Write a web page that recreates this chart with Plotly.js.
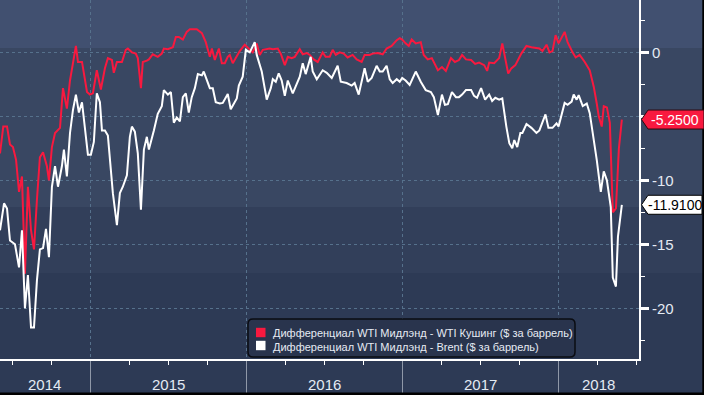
<!DOCTYPE html>
<html><head><meta charset="utf-8">
<script src="https://cdn.plot.ly/plotly-3.0.1.min.js"></script>
<style>html,body{margin:0;padding:0;background:#2d3a55;overflow:hidden}#chart{width:704px;height:395px}</style>
</head><body><div id="chart"></div>
<script>
const seriesNames = ['Дифференциал WTI Мидлэнд - WTI Кушинг ($ за баррель)', 'Дифференциал WTI Мидлэнд - Brent ($ за баррель)'];
const seriesColors = ['#f8193f', '#ffffff'];

const cushingX = [2014.417,2014.438,2014.462,2014.481,2014.500,2014.520,2014.539,2014.558,2014.577,2014.596,2014.616,2014.635,2014.654,2014.673,2014.693,2014.718,2014.731,2014.750,2014.770,2014.802,2014.821,2014.846,2014.866,2014.904,2014.917,2014.943,2014.975,2014.994,2015.013,2015.038,2015.064,2015.090,2015.109,2015.135,2015.147,2015.167,2015.199,2015.224,2015.237,2015.263,2015.288,2015.301,2015.321,2015.333,2015.359,2015.372,2015.397,2015.429,2015.455,2015.468,2015.494,2015.526,2015.545,2015.564,2015.590,2015.615,2015.635,2015.679,2015.712,2015.737,2015.763,2015.776,2015.795,2015.821,2015.840,2015.859,2015.878,2015.891,2015.910,2015.955,2015.987,2016.019,2016.038,2016.064,2016.083,2016.103,2016.147,2016.167,2016.199,2016.218,2016.231,2016.244,2016.263,2016.288,2016.308,2016.340,2016.359,2016.385,2016.404,2016.429,2016.455,2016.487,2016.506,2016.532,2016.551,2016.571,2016.596,2016.622,2016.647,2016.679,2016.705,2016.737,2016.756,2016.788,2016.808,2016.840,2016.872,2016.897,2016.929,2016.962,2016.981,2016.997,2017.019,2017.039,2017.058,2017.084,2017.116,2017.135,2017.161,2017.187,2017.226,2017.252,2017.277,2017.310,2017.335,2017.361,2017.381,2017.406,2017.439,2017.465,2017.490,2017.523,2017.542,2017.555,2017.587,2017.619,2017.639,2017.658,2017.677,2017.697,2017.723,2017.761,2017.794,2017.826,2017.877,2017.897,2017.923,2017.942,2017.961,2017.981,2018.000,2018.039,2018.058,2018.090,2018.110,2018.135,2018.168,2018.200,2018.226,2018.245,2018.258,2018.277,2018.290,2018.310,2018.329,2018.348,2018.368,2018.387,2018.406];
const cushingY = [-7.9,-5.8,-5.8,-7.2,-7.4,-8.4,-10.9,-9.7,-17.3,-10.5,-13.9,-15.4,-11.5,-8.2,-7.8,-8.9,-10,-7.4,-6.3,-5.9,-2.8,-4.4,-2.2,0.5,-0.75,-0.75,-3.1,-3.3,-3.2,-1.4,-2.9,-1.25,-0.45,-0.6,-1.6,-0.75,-0.75,0.2,0.3,0,-0.1,-0.45,-2.8,-0.75,-0.65,-0.55,-0.15,-0.35,-0.1,0.3,0.25,0.4,1.2,1.2,1.0,1.6,1.8,1.8,1.5,0.8,-0.35,0.3,-0.6,0.3,-0.85,-0.85,-0.35,-0.2,-0.85,0.1,0.6,0.2,0,0.7,-0.2,0.2,0.3,0.25,0.3,-0.1,-0.6,-1.0,-0.35,-0.45,-0.35,0.25,-0.15,-0.05,-0.2,-0.55,-0.75,0,-0.35,-0.35,0.2,-0.2,0,-0.1,-0.4,-0.2,-0.55,-0.75,-0.2,-0.2,-0.1,-0.05,-0.15,0.3,0.5,0.95,1.1,1.0,0.7,0.5,1.0,0.7,0.8,-0.2,-0.55,-0.45,-1.4,-1.15,-1.45,-0.45,-0.75,-0.6,-0.2,-0.55,-0.6,-0.9,-0.8,-1.0,-1.45,-0.8,-0.85,-0.45,0.7,-0.35,-1.65,-1.25,-1.0,-0.1,0.5,0.4,0.3,0.1,0.6,0,0.1,1.35,0.7,1.6,0.8,0,-0.4,-0.2,-0.75,-1.4,-2.7,-4.0,-5.0,-5.8,-4.2,-4.3,-5.5,-12.5,-12.2,-7.5,-5.25];

const brentX = [2014.417,2014.443,2014.462,2014.481,2014.513,2014.539,2014.558,2014.577,2014.596,2014.616,2014.635,2014.654,2014.673,2014.693,2014.712,2014.731,2014.750,2014.770,2014.789,2014.814,2014.827,2014.846,2014.866,2014.885,2014.904,2014.923,2014.943,2014.962,2014.981,2015.000,2015.019,2015.038,2015.058,2015.071,2015.090,2015.109,2015.141,2015.167,2015.186,2015.205,2015.231,2015.250,2015.263,2015.282,2015.301,2015.321,2015.340,2015.359,2015.372,2015.404,2015.429,2015.455,2015.468,2015.494,2015.513,2015.532,2015.551,2015.571,2015.590,2015.609,2015.628,2015.647,2015.667,2015.686,2015.712,2015.724,2015.763,2015.782,2015.801,2015.827,2015.846,2015.878,2015.897,2015.936,2015.949,2015.974,2015.994,2016.019,2016.051,2016.064,2016.096,2016.128,2016.154,2016.167,2016.186,2016.205,2016.224,2016.244,2016.263,2016.295,2016.340,2016.359,2016.378,2016.410,2016.423,2016.449,2016.487,2016.513,2016.545,2016.583,2016.603,2016.641,2016.673,2016.692,2016.718,2016.756,2016.776,2016.801,2016.833,2016.853,2016.872,2016.897,2016.917,2016.936,2016.962,2016.981,2016.997,2017.019,2017.045,2017.084,2017.116,2017.148,2017.181,2017.200,2017.226,2017.252,2017.271,2017.290,2017.316,2017.342,2017.361,2017.381,2017.406,2017.439,2017.458,2017.477,2017.503,2017.529,2017.555,2017.574,2017.594,2017.619,2017.639,2017.665,2017.684,2017.703,2017.716,2017.735,2017.755,2017.768,2017.794,2017.826,2017.858,2017.877,2017.897,2017.916,2017.935,2017.961,2017.987,2018.000,2018.039,2018.058,2018.084,2018.097,2018.116,2018.129,2018.155,2018.181,2018.200,2018.219,2018.245,2018.271,2018.290,2018.310,2018.335,2018.348,2018.368,2018.381,2018.406];
const brentY = [-13.9,-11.8,-12.2,-14.7,-15.0,-16.8,-13.9,-20.0,-17.4,-21.5,-21.5,-17.8,-15.4,-15.3,-13.8,-16.0,-10.5,-8.9,-10.5,-8.9,-7.6,-9.7,-6.3,-4.5,-3.3,-4.7,-3.9,-5.8,-8.0,-8.0,-7.0,-3.2,-3.9,-6.1,-6.1,-6.5,-11.0,-13.5,-11.0,-10.5,-9.6,-6.6,-5.8,-6.2,-7.9,-12.3,-7.6,-6.6,-7.6,-6.1,-4.8,-4.2,-2.95,-3.3,-3.1,-5.5,-5.1,-5.4,-3.5,-3.2,-4.7,-3.5,-2.8,-1.7,-1.8,-1.5,-2.8,-2.8,-3.9,-4.0,-3.95,-3.25,-4.45,-3.6,-2.6,-1.9,0.2,0,0.8,-0.2,-1.5,-3.7,-2.8,-2.1,-2.3,-1.65,-2.2,-3.4,-2.2,-3.2,-1.9,-0.85,-1.7,-0.35,-1.5,-2.1,-1.4,-1.6,-2.0,-1.05,-2.3,-2.4,-2.6,-2.4,-3.3,-1.25,-2.3,-2.0,-1.05,-1.5,-1.5,-1.05,-2.1,-2.4,-2.1,-2.3,-2.0,-2.2,-2.55,-1.5,-2.3,-2.95,-3.1,-3.5,-4.9,-3.3,-4.1,-4.05,-3.1,-3.5,-3.5,-3.3,-2.95,-2.95,-3.4,-3.55,-2.8,-3.7,-3.3,-3.8,-3.55,-3.7,-3.6,-5.8,-7.1,-7.5,-6.85,-7.4,-6.3,-6.3,-5.6,-5.9,-6.3,-6.1,-5.4,-4.85,-5.9,-5.9,-5.55,-5.8,-3.95,-4.1,-3.85,-3.3,-3.7,-3.35,-4.2,-4.0,-4.75,-6.2,-8.4,-10.9,-9.3,-10.0,-12.1,-17.6,-18.3,-14.4,-11.91];

const yearLabelPos = [2014.705, 2015.5, 2016.5, 2017.5, 2018.258];
const yearLabelText = ['2014', '2015', '2016', '2017', '2018'];
const yearBoundaries = [2015, 2016, 2017, 2018];
const yTickVals = [0, -5, -10, -15, -20];
const yTickText = ['0', '', '-10', '-15', '-20'];  // "-5" sits under the last-value flag in the reference

const NUMFONT = 'Liberation Sans Narrow, Liberation Sans, Arial, sans-serif';
const PW = 639, PH = 359;
const px2x = p => p / PW, py2y = p => 1 - p / PH;
const fullW = 704 / PW;

const traces = [
  {x: cushingX, y: cushingY, type: 'scatter', mode: 'lines', name: seriesNames[0],
   line: {color: seriesColors[0], width: 2}, hoverinfo: 'skip'},
  {x: brentX, y: brentY, type: 'scatter', mode: 'lines', name: seriesNames[1],
   line: {color: seriesColors[1], width: 2}, hoverinfo: 'skip'}
];

const bands = [[0, 48, '#415070'], [48, 207, '#394762'], [207, 273, '#323f5a'], [273, 395, '#2d3a55']];
const shapes = bands.map(b => ({type: 'rect', xref: 'paper', yref: 'paper', x0: 0, x1: fullW,
  y0: py2y(b[0]), y1: py2y(b[1]), fillcolor: b[2], line: {width: 0}, layer: 'below'}));
shapes.push({type: 'rect', xref: 'paper', yref: 'paper', x0: 0, x1: fullW, y0: py2y(392.5), y1: py2y(395), fillcolor: '#000', line: {width: 0}, layer: 'above'});
shapes.push({type: 'rect', xref: 'paper', yref: 'paper', x0: px2x(702.3), x1: fullW, y0: py2y(395), y1: 1, fillcolor: '#000', line: {width: 0}, layer: 'above'});

// legend box
const lx0 = px2x(248), lx1 = px2x(575), ly0 = py2y(319), ly1 = py2y(357), rx = 5 / PW, ry = 5 / PH;
shapes.push({type: 'path', xref: 'paper', yref: 'paper', layer: 'above', fillcolor: '#29344d', line: {color: '#0a0c12', width: 1.5},
  path: `M ${lx0+rx},${ly0} L ${lx1-rx},${ly0} Q ${lx1},${ly0} ${lx1},${ly0-ry} L ${lx1},${ly1+ry} Q ${lx1},${ly1} ${lx1-rx},${ly1} L ${lx0+rx},${ly1} Q ${lx0},${ly1} ${lx0},${ly1+ry} L ${lx0},${ly0-ry} Q ${lx0},${ly0} ${lx0+rx},${ly0} Z`});
const legRows = [332.5, 345.5];
legRows.forEach((r, i) => {
  shapes.push({type: 'rect', xref: 'paper', yref: 'paper', layer: 'above', x0: px2x(256), x1: px2x(265.5), y0: py2y(r - 4.7), y1: py2y(r + 4.7), fillcolor: seriesColors[i], line: {width: 0}});
});

const annotations = [{xref: 'paper', yref: 'paper', x: px2x(271), y: py2y(339.5), xanchor: 'left', yanchor: 'middle', align: 'left',
  text: seriesNames.join('<br>'), showarrow: false, font: {family: 'Liberation Sans, Arial, sans-serif', size: 11, color: '#e6ebf3'}}];

// year labels under the axis
yearLabelText.forEach((t, i) => annotations.push({xref: 'x', yref: 'paper', x: yearLabelPos[i], y: py2y(384.5), xanchor: 'center', yanchor: 'middle',
  showarrow: false, text: t, font: {family: NUMFONT, size: 15, color: '#e4eaf3'}}));

// last-value flags
const lastVals = [cushingY[cushingY.length - 1], brentY[brentY.length - 1]];
const flagStyle = [{fill: seriesColors[0], line: '#2a0a10', text: '#ffffff'}, {fill: '#ffffff', line: '#000000', text: '#000000'}];
const hh = 9.5 / 12.8;
lastVals.forEach((v, i) => {
  const xt = px2x(641.5), xb = px2x(648), xe = px2x(i === 0 ? 704 : 702);
  shapes.push({type: 'path', xref: 'paper', yref: 'y', layer: 'above', fillcolor: flagStyle[i].fill, line: {color: flagStyle[i].line, width: 1},
    path: `M ${xt},${v} L ${xb},${v + hh} L ${xe},${v + hh} L ${xe},${v - hh} L ${xb},${v - hh} Z`});
  annotations.push({xref: 'paper', yref: 'y', x: px2x(675), y: v, xanchor: 'center', yanchor: 'middle', showarrow: false,
    text: v.toFixed(4), font: {family: NUMFONT, size: 14, color: flagStyle[i].text}});
});

const xr = [2014.417, 2018.516];
const layout = {
  width: 704, height: 395, margin: {l: 0, r: 65, t: 0, b: 36, pad: 0},
  paper_bgcolor: '#2d3a55', plot_bgcolor: 'rgba(0,0,0,0)', showlegend: false,
  xaxis: {type: 'linear', range: xr, tickmode: 'array', tickvals: yearBoundaries, ticktext: yearBoundaries.map(() => ''),
    ticks: 'outside', ticklen: 34, tickwidth: 1, tickcolor: '#8f98a8',
    showgrid: true, gridcolor: '#56718c', griddash: '3px,3px', gridwidth: 1, zeroline: false,
    showline: true, linecolor: '#ffffff', linewidth: 1.5,
    minor: {tickmode: 'linear', tick0: 2014, dtick: 0.25, ticks: 'outside', ticklen: 4, tickwidth: 1, tickcolor: '#ffffff', showgrid: false}},
  yaxis: {side: 'right', range: [-23.96, 4.09], tickmode: 'array', tickvals: yTickVals, ticktext: yTickText,
    ticks: 'outside', ticklen: 8, tickwidth: 2.5, tickcolor: '#ffffff',
    showgrid: true, gridcolor: '#56718c', griddash: '3px,3px', gridwidth: 1, zeroline: false,
    showline: true, linecolor: '#ffffff', linewidth: 2,
    tickfont: {family: NUMFONT, size: 15, color: '#e4eaf3'},
    minor: {tickmode: 'linear', tick0: 0, dtick: 2.5, ticks: 'outside', ticklen: 4, tickwidth: 1, tickcolor: '#ffffff', showgrid: false}},
  shapes: shapes, annotations: annotations
};
Plotly.newPlot('chart', traces, layout, {displayModeBar: false, staticPlot: true});
</script></body></html>
